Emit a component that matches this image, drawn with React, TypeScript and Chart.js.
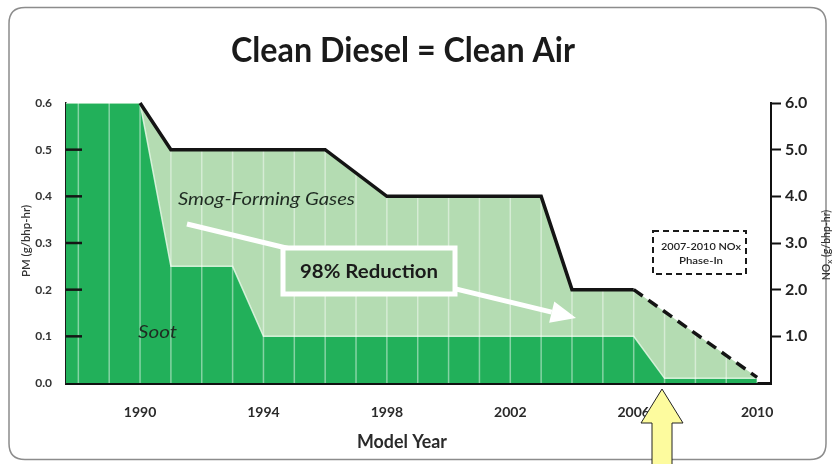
import React, { useEffect, useRef } from 'react';
import { Chart, registerables } from 'chart.js';

Chart.register(...registerables);

// ---- data ----
const sootYears = [1987, 1990, 1991, 1993, 1994, 2006, 2007, 2010];
const sootPM = [0.6, 0.6, 0.25, 0.25, 0.1, 0.1, 0.01, 0.01];
const noxYears = [1990, 1991, 1996, 1998, 2003, 2004, 2006, 2010];
const noxLevels = [6.0, 5.0, 5.0, 4.0, 4.0, 2.0, 2.0, 0.12];
const phaseInStart = 2006;
const pmTickValues = [0, 0.1, 0.2, 0.3, 0.4, 0.5, 0.6];
const noxTickValues = [0, 1, 2, 3, 4, 5, 6];
const yearTickValues = [1990, 1994, 1998, 2002, 2006, 2010];
const gridYears = [1988, 1989, 1990, 1991, 1992, 1993, 1994, 1995, 1996, 1997, 1998, 1999, 2000, 2001, 2002, 2003, 2004, 2005, 2006, 2007, 2008, 2009, 2010];

const FAMILY = 'Lato, "Open Sans", sans-serif';
const DARK = '#22b05a';
const LIGHT = '#b4dcb2';

function drawText(
  ctx: CanvasRenderingContext2D,
  s: string,
  cx: number,
  baseline: number,
  size: number,
  weight: string,
  italic: boolean,
  width: number | null,
  color: string
) {
  ctx.save();
  ctx.font = `${italic ? 'italic ' : ''}${weight} ${size}px ${FAMILY}`;
  ctx.fillStyle = color;
  ctx.textAlign = 'center';
  ctx.textBaseline = 'alphabetic';
  const w = ctx.measureText(s).width;
  const sx = width ? width / w : 1;
  ctx.translate(cx, baseline);
  ctx.scale(sx, 1);
  ctx.fillText(s, 0, 0);
  ctx.restore();
}

const decorPlugin = {
  id: 'decor',
  beforeDraw(chart: any) {
    const ctx = chart.ctx as CanvasRenderingContext2D;
    ctx.save();
    ctx.fillStyle = '#ffffff';
    ctx.fillRect(0, 0, chart.width, chart.height);
    // rounded frame
    const x = 9, y = 7.5, w = 817, h = 452, r = 16;
    ctx.beginPath();
    ctx.moveTo(x + r, y);
    ctx.lineTo(x + w - r, y);
    ctx.quadraticCurveTo(x + w, y, x + w, y + r);
    ctx.lineTo(x + w, y + h - r);
    ctx.quadraticCurveTo(x + w, y + h, x + w - r, y + h);
    ctx.lineTo(x + r, y + h);
    ctx.quadraticCurveTo(x, y + h, x, y + h - r);
    ctx.lineTo(x, y + r);
    ctx.quadraticCurveTo(x, y, x + r, y);
    ctx.closePath();
    ctx.strokeStyle = '#8c8c8c';
    ctx.lineWidth = 1.5;
    ctx.stroke();
    ctx.restore();
  },
  afterDatasetDraw(chart: any, args: any) {
    if (args.index !== 2) return;
    const ctx = chart.ctx as CanvasRenderingContext2D;
    const a = chart.chartArea;
    const xs = chart.scales.x;
    ctx.save();
    ctx.beginPath();
    ctx.rect(a.left, a.top, a.right - a.left, a.bottom - a.top);
    ctx.clip();
    ctx.strokeStyle = 'rgba(255,255,255,0.45)';
    ctx.lineWidth = 1.5;
    gridYears.forEach((yr) => {
      const px = xs.getPixelForValue(yr);
      ctx.beginPath();
      ctx.moveTo(px, a.top);
      ctx.lineTo(px, a.bottom);
      ctx.stroke();
    });
    ctx.restore();
  },
  afterDraw(chart: any) {
    const ctx = chart.ctx as CanvasRenderingContext2D;
    const a = chart.chartArea;
    const ys = chart.scales.y;

    // inner ticks on the PM axis
    ctx.save();
    ctx.strokeStyle = '#151515';
    ctx.lineWidth = 2.5;
    pmTickValues.forEach((v) => {
      if (v === 0 || v === 0.6) return;
      const py = ys.getPixelForValue(v);
      ctx.beginPath();
      ctx.moveTo(a.left, py);
      ctx.lineTo(a.left + 16, py);
      ctx.stroke();
    });
    ctx.restore();

    // title
    drawText(ctx, 'Clean Diesel = Clean Air', 403, 62, 34, 'bold', false, 344, '#1a1a1a');

    // axis titles
    ctx.save();
    ctx.translate(26, 241);
    ctx.rotate(-Math.PI / 2);
    drawText(ctx, 'PM (g/bhp-hr)', 0, 3.5, 10.5, '600', false, 72, '#333');
    ctx.restore();

    ctx.save();
    ctx.translate(826, 245);
    ctx.rotate(-Math.PI / 2);
    ctx.fillStyle = '#333';
    ctx.textBaseline = 'alphabetic';
    ctx.textAlign = 'left';
    const big = `600 10.5px ${FAMILY}`;
    const small = `600 8px ${FAMILY}`;
    ctx.font = big;
    const w1 = ctx.measureText('NO').width;
    const w3 = ctx.measureText(' (g/bhp-hr)').width;
    ctx.font = small;
    const w2 = ctx.measureText('x').width;
    let sx = -(w1 + w2 + w3) / 2;
    ctx.font = big;
    ctx.fillText('NO', sx, 3.5);
    sx += w1;
    ctx.font = small;
    ctx.fillText('x', sx, 6);
    sx += w2;
    ctx.font = big;
    ctx.fillText(' (g/bhp-hr)', sx, 3.5);
    ctx.restore();

    // x axis title
    drawText(ctx, 'Model Year', 402, 448, 18, 'bold', false, 90, '#2a2a2a');

    // area labels
    drawText(ctx, 'Smog-Forming Gases', 266.5, 205, 16.5, 'normal', true, 177, '#1f2b22');
    drawText(ctx, 'Soot', 157.5, 338, 16.5, 'normal', true, 39, '#1f2b22');

    // white arrow
    const x0 = 187, y0 = 224, x1 = 576, y1 = 318;
    const ang = Math.atan2(y1 - y0, x1 - x0);
    const hl = 25, hw = 11;
    const bx = x1 - hl * Math.cos(ang), by = y1 - hl * Math.sin(ang);
    ctx.save();
    ctx.strokeStyle = '#ffffff';
    ctx.fillStyle = '#ffffff';
    ctx.lineWidth = 5;
    ctx.beginPath();
    ctx.moveTo(x0, y0);
    ctx.lineTo(bx, by);
    ctx.stroke();
    ctx.beginPath();
    ctx.moveTo(x1, y1);
    ctx.lineTo(bx + hw * Math.sin(ang), by - hw * Math.cos(ang));
    ctx.lineTo(bx - hw * Math.sin(ang), by + hw * Math.cos(ang));
    ctx.closePath();
    ctx.fill();
    // reduction box
    ctx.fillStyle = LIGHT;
    ctx.fillRect(283, 248, 172, 46);
    ctx.lineWidth = 5;
    ctx.strokeRect(283, 248, 172, 46);
    ctx.restore();
    drawText(ctx, '98% Reduction', 369, 278, 18, 'bold', false, 138, '#1a1a1a');

    // dashed phase-in box
    ctx.save();
    ctx.strokeStyle = '#1a1a1a';
    ctx.lineWidth = 2;
    ctx.setLineDash([6, 4]);
    ctx.strokeRect(653, 231, 93, 43);
    ctx.restore();
    drawText(ctx, '2007-2010 NOx', 701, 250, 10, '600', false, 80, '#222');
    drawText(ctx, 'Phase-In', 701, 264, 10, '600', false, 44, '#222');

    // yellow arrow
    ctx.save();
    ctx.beginPath();
    ctx.moveTo(662, 389);
    ctx.lineTo(683, 423);
    ctx.lineTo(672, 423);
    ctx.lineTo(672, 470);
    ctx.lineTo(652, 470);
    ctx.lineTo(652, 423);
    ctx.lineTo(641, 423);
    ctx.closePath();
    ctx.fillStyle = '#fdfb9e';
    ctx.fill();
    ctx.strokeStyle = '#222';
    ctx.lineWidth = 1;
    ctx.stroke();
    ctx.restore();
  },
};

export default function App() {
  const ref = useRef<HTMLCanvasElement | null>(null);

  useEffect(() => {
    document.body.style.margin = '0';
    const canvas = ref.current;
    if (!canvas) return;

    const noxPoints = noxYears.map((x, i) => ({ x, y: noxLevels[i] }));
    const sootPoints = sootYears.map((x, i) => ({ x, y: sootPM[i] }));

    const chart = new Chart(canvas, {
      type: 'line',
      data: {
        datasets: [
          {
            label: 'NOx',
            data: noxPoints.filter((p) => p.x <= phaseInStart),
            yAxisID: 'y2',
            borderColor: '#141414',
            borderWidth: 3.5,
            fill: false,
            pointRadius: 0,
            order: 0,
            clip: false,
          },
          {
            label: 'NOx phase-in',
            data: noxPoints.filter((p) => p.x >= phaseInStart),
            yAxisID: 'y2',
            borderColor: '#141414',
            borderWidth: 3.5,
            borderDash: [11, 7],
            fill: false,
            pointRadius: 0,
            order: 1,
            clip: false,
          },
          {
            label: 'Soot',
            data: sootPoints,
            yAxisID: 'y',
            borderColor: 'rgba(230,248,230,0.85)',
            borderWidth: 1.5,
            backgroundColor: DARK,
            fill: 'origin',
            pointRadius: 0,
            order: 2,
          },
          {
            label: 'Smog-Forming Gases',
            data: noxPoints,
            yAxisID: 'y2',
            borderWidth: 0,
            borderColor: LIGHT,
            backgroundColor: LIGHT,
            fill: 'origin',
            pointRadius: 0,
            order: 3,
          },
        ],
      },
      options: {
        responsive: false,
        animation: false,
        layout: { padding: { top: 103, left: 0, right: 0, bottom: 0 } },
        plugins: {
          legend: { display: false },
          tooltip: { enabled: false },
          title: { display: false },
        },
        elements: { line: { tension: 0 }, point: { radius: 0 } },
        scales: {
          x: {
            type: 'linear',
            min: 1987.6,
            max: 2010.45,
            z: 1,
            afterBuildTicks: (s: any) => {
              s.ticks = yearTickValues.map((v) => ({ value: v }));
            },
            afterFit: (s: any) => {
              s.height = 81;
            },
            ticks: {
              callback: (v: any) => String(v),
              font: { family: FAMILY, size: 14, weight: 'bold' },
              color: '#2a2a2a',
              padding: 13,
              autoSkip: false,
              maxRotation: 0,
            },
            grid: { display: false },
            border: { display: true, color: '#111', width: 3 },
          },
          y: {
            position: 'left',
            min: 0,
            max: 0.6,
            z: 1,
            afterBuildTicks: (s: any) => {
              s.ticks = pmTickValues.map((v) => ({ value: v }));
            },
            afterFit: (s: any) => {
              s.width = 66;
            },
            ticks: {
              callback: (v: any) => Number(v).toFixed(1),
              font: { family: FAMILY, size: 12, weight: 'bold' },
              color: '#333',
              padding: 6,
            },
            grid: { display: false },
            border: { display: true, color: '#1a1a1a', width: 1.5 },
          },
          y2: {
            position: 'right',
            min: 0,
            max: 6,
            z: 1,
            afterBuildTicks: (s: any) => {
              s.ticks = noxTickValues.map((v) => ({ value: v }));
            },
            afterFit: (s: any) => {
              s.width = 61;
            },
            ticks: {
              callback: (v: any) => (Number(v) === 0 ? '' : Number(v).toFixed(1)),
              font: { family: FAMILY, size: 16, weight: 'bold' },
              color: '#222',
              padding: 4,
            },
            grid: {
              display: true,
              drawOnChartArea: false,
              drawTicks: true,
              tickLength: 10,
              tickWidth: 2,
              color: 'rgba(0,0,0,0)',
              tickColor: (c: any) => (c.tick && c.tick.value === 0 ? 'rgba(0,0,0,0)' : '#111'),
            },
            border: { display: true, color: '#111', width: 2 },
          },
        },
      } as any,
      plugins: [decorPlugin],
    });

    return () => {
      chart.destroy();
    };
  }, []);

  return <canvas ref={ref} width={832} height={464} style={{ display: 'block', width: 832, height: 464 }} />;
}
